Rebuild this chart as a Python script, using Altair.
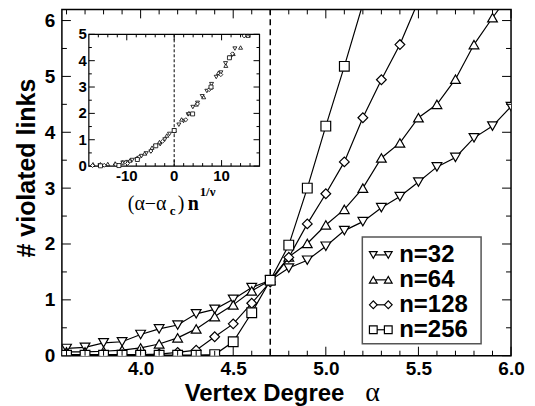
import altair as alt
import pandas as pd

# ---------------- data ----------------
ALPHA = [3.6, 3.7, 3.8, 3.9, 4.0, 4.1, 4.2, 4.3, 4.4, 4.5, 4.6, 4.7, 4.8,
         4.9, 5.0, 5.1, 5.2, 5.3, 5.4, 5.5, 5.6, 5.7, 5.8, 5.9, 6.0]
V32 = [0.13, 0.15, 0.23, 0.25, 0.38, 0.48, 0.55, 0.75, 0.83, 1.01, 1.22, 1.35, 1.57,
       1.71, 1.96, 2.24, 2.40, 2.65, 2.85, 3.11, 3.38, 3.55, 3.90, 4.11, 4.46]
V64 = [0.07, 0.07, 0.08, 0.10, 0.14, 0.21, 0.32, 0.48, 0.70, 0.91, 1.16, 1.35, 1.77,
       2.01, 2.34, 2.62, 3.00, 3.54, 3.81, 4.26, 4.50, 4.95, 5.57, 6.05, 6.50]
V128 = [0.02, 0.02, 0.02, 0.02, 0.02, 0.03, 0.06, 0.10, 0.34, 0.57, 0.94, 1.32, 1.76,
        2.36, 2.90, 3.47, 4.26, 4.94, 5.57, 6.35]
V256 = [0.01, 0.01, 0.01, 0.01, 0.01, 0.01, 0.01, 0.01, 0.02, 0.25, 0.77, 1.35, 1.98,
        3.00, 4.11, 5.18, 6.30]
SERIES = ["n=32", "n=64", "n=128", "n=256"]
SIZES = [32, 64, 128, 256]
VALUES = [V32, V64, V128, V256]
SHAPES = ["triangle-down", "triangle-up", "diamond", "square"]

# scaling collapse parameters
ALPHA_C = 4.7
INV_NU = 0.66

# tick values
X_MAJOR = [4.0, 4.5, 5.0, 5.5, 6.0]
X_MINOR = [3.6, 3.7, 3.8, 3.9, 4.1, 4.2, 4.3, 4.4, 4.6, 4.7, 4.8, 4.9,
           5.1, 5.2, 5.3, 5.4, 5.6, 5.7, 5.8, 5.9]
Y_MAJOR = [0, 1, 2, 3, 4, 5, 6]
Y_MINOR = [0.5, 1.5, 2.5, 3.5, 4.5, 5.5]
IX_MAJOR = [-10, 0, 10]
IX_LABELS = ["-10", "0", "10"]
IX_MINOR = [-16, -14, -12, -8, -6, -4, -2, 2, 4, 6, 8, 12, 14, 16]
IY_MAJOR = [0, 1, 2, 3, 4, 5]
IY_MINOR = [0.5, 1.5, 2.5, 3.5, 4.5]
IX_DOMAIN = [-18, 18]
IY_DOMAIN = [0, 5]

rows = []
for s, n, vals in zip(SERIES, SIZES, VALUES):
    for a, v in zip(ALPHA, vals):
        rows.append({"alpha": a, "value": v, "series": s, "n": n})
df = pd.DataFrame(rows)

W, H = 450, 347
FONT = "Liberation Sans"
SERIF = "Liberation Serif"
X_DOMAIN = [3.575, 6.0]
Y_DOMAIN = [0, 6.2]

XS = alt.Scale(domain=X_DOMAIN, nice=False, zero=False)
YS = alt.Scale(domain=Y_DOMAIN, nice=False, zero=False)
SHAPE_SCALE = alt.Scale(domain=SERIES, range=SHAPES)

# inset placement inside the main plot (pixels from the plot's top-left corner)
IL, IR, IT, IB = 27, 198, 25, 157
# the same box in main-axis units, so that the inset goes through the main scales
AX0 = X_DOMAIN[0] + IL / W * (X_DOMAIN[1] - X_DOMAIN[0])
AX1 = X_DOMAIN[0] + IR / W * (X_DOMAIN[1] - X_DOMAIN[0])
AY0 = Y_DOMAIN[1] * (H - IB) / H
AY1 = Y_DOMAIN[1] * (H - IT) / H


def ix(expr):
    return f"{AX0} + (({expr}) - ({IX_DOMAIN[0]})) / ({IX_DOMAIN[1] - IX_DOMAIN[0]}) * ({AX1 - AX0})"


def iy(expr):
    return f"{AY0} + (({expr}) - ({IY_DOMAIN[0]})) / ({IY_DOMAIN[1] - IY_DOMAIN[0]}) * ({AY1 - AY0})"


# ---------------- main panel ----------------
lines = alt.Chart(df).mark_line(color="black", strokeWidth=1.2, clip=True).encode(
    x=alt.X("alpha:Q", scale=XS,
            axis=alt.Axis(values=X_MAJOR, format=".1f", title=None, labelPadding=4)),
    y=alt.Y("value:Q", scale=YS,
            axis=alt.Axis(values=Y_MAJOR, format="d", title=None, labelPadding=7)),
    detail="series:N",
    order="alpha:Q",
)
points = alt.Chart(df).mark_point(
    filled=True, fill="white", stroke="black", strokeWidth=1.2, size=95, opacity=1, clip=True
).encode(
    x="alpha:Q", y="value:Q",
    shape=alt.Shape("series:N", scale=SHAPE_SCALE, legend=None),
)
vline = alt.Chart(pd.DataFrame({"alpha": [ALPHA_C]})).mark_rule(
    color="black", strokeWidth=1.5, strokeDash=[6, 4]
).encode(x="alpha:Q")


def xticks(vals, length):
    d = pd.DataFrame({"alpha": vals})
    b = alt.Chart(d).mark_rule(color="black", strokeWidth=1).encode(
        x="alpha:Q", y=alt.value(H), y2=alt.value(H - length))
    t = alt.Chart(d).mark_rule(color="black", strokeWidth=1).encode(
        x="alpha:Q", y=alt.value(0), y2=alt.value(length))
    return [b, t]


def yticks(vals, length):
    d = pd.DataFrame({"value": vals})
    l = alt.Chart(d).mark_rule(color="black", strokeWidth=1).encode(
        y="value:Q", x=alt.value(0), x2=alt.value(length))
    r = alt.Chart(d).mark_rule(color="black", strokeWidth=1).encode(
        y="value:Q", x=alt.value(W), x2=alt.value(W - length))
    return [l, r]


tick_layers = xticks(X_MAJOR, 9) + xticks(X_MINOR, 5) + yticks(Y_MAJOR, 9) + yticks(Y_MINOR, 5)

one = pd.DataFrame({"t": [0]})


def txt(s, x, y, size, font=SERIF, weight="normal", angle=0, align="left", baseline="alphabetic"):
    return alt.Chart(one).mark_text(
        font=font, fontWeight=weight, fontSize=size, align=align, baseline=baseline,
        color="black", angle=angle,
    ).encode(x=alt.value(x), y=alt.value(y), text=alt.value(s))


titles = [
    txt("Vertex Degree", 123, 392, 24, font=FONT, weight="bold"),
    txt("α", 304, 392, 28),
    txt("# violated links", -27, 159, 25, font=FONT, weight="bold", angle=270, align="center"),
]

# ---------------- inset (drawn through the main scales) ----------------
frame = alt.Chart(one).mark_rect(fill="white", stroke="black", strokeWidth=1.2).encode(
    x=alt.value(IL), x2=alt.value(IR), y=alt.value(IT), y2=alt.value(IB)
)
ipoints = alt.Chart(df).transform_calculate(
    sx=f"(datum.alpha - {ALPHA_C}) * pow(datum.n, {INV_NU})"
).transform_filter(
    f"datum.sx >= {IX_DOMAIN[0]} && datum.sx <= {IX_DOMAIN[1]} && datum.value <= {IY_DOMAIN[1]}"
).transform_calculate(
    alpha=ix("datum.sx"), value=iy("datum.value")
).mark_point(filled=True, fill="white", stroke="black", strokeWidth=0.8, size=16, opacity=1).encode(
    x="alpha:Q", y="value:Q",
    shape=alt.Shape("series:N", scale=SHAPE_SCALE, legend=None),
)
izero = alt.Chart(pd.DataFrame({"sx": [0]})).transform_calculate(alpha=ix("datum.sx")).mark_rule(
    color="black", strokeWidth=1, strokeDash=[3, 2]
).encode(x="alpha:Q", y=alt.value(IT), y2=alt.value(IB))


def ixticks(vals, length):
    d = pd.DataFrame({"sx": vals})
    b = alt.Chart(d).transform_calculate(alpha=ix("datum.sx")).mark_rule(
        color="black", strokeWidth=1).encode(x="alpha:Q", y=alt.value(IB), y2=alt.value(IB - length))
    t = alt.Chart(d).transform_calculate(alpha=ix("datum.sx")).mark_rule(
        color="black", strokeWidth=1).encode(x="alpha:Q", y=alt.value(IT), y2=alt.value(IT + length))
    return [b, t]


def iyticks(vals, length):
    d = pd.DataFrame({"sy": vals})
    l = alt.Chart(d).transform_calculate(value=iy("datum.sy")).mark_rule(
        color="black", strokeWidth=1).encode(y="value:Q", x=alt.value(IL), x2=alt.value(IL + length))
    r = alt.Chart(d).transform_calculate(value=iy("datum.sy")).mark_rule(
        color="black", strokeWidth=1).encode(y="value:Q", x=alt.value(IR), x2=alt.value(IR - length))
    return [l, r]


itick_layers = ixticks(IX_MAJOR, 6) + ixticks(IX_MINOR, 3) + iyticks(IY_MAJOR, 6) + iyticks(IY_MINOR, 3)

ixlab = alt.Chart(pd.DataFrame({"sx": IX_MAJOR, "lab": IX_LABELS})).transform_calculate(
    alpha=ix("datum.sx")
).mark_text(
    font=FONT, fontWeight="bold", fontSize=15, align="center", baseline="top", color="black"
).encode(x="alpha:Q", y=alt.value(IB + 3), text="lab:N")
iylab = alt.Chart(pd.DataFrame({"sy": IY_MAJOR, "lab": [str(v) for v in IY_MAJOR]})).transform_calculate(
    value=iy("datum.sy")
).mark_text(
    font=FONT, fontWeight="bold", fontSize=15, align="right", baseline="middle", color="black"
).encode(x=alt.value(IL - 2), y="value:Q", text="lab:N")

ititle = [
    txt("(α−α", 66, 201, 20),
    txt("c", 108, 206, 13, weight="bold"),
    txt(")", 116, 201, 20),
    txt("n", 126, 201, 20, weight="bold"),
    txt("1/ν", 138, 187, 13, weight="bold"),
]

# ---------------- legend (marker - line - marker, as in the reference) ----------------
LX0, LX1, LY0, LY1 = 301, 420, 228, 335
ROW_Y = [246, 271, 296, 321]
legend_layers = [
    alt.Chart(one).mark_rect(fill="white", stroke="#555555", strokeWidth=1.5).encode(
        x=alt.value(LX0), x2=alt.value(LX1), y=alt.value(LY0), y2=alt.value(LY1))
]
for s, shp, ry in zip(SERIES, SHAPES, ROW_Y):
    legend_layers.append(
        alt.Chart(one).mark_rule(color="black", strokeWidth=1.2).encode(
            x=alt.value(312), x2=alt.value(327), y=alt.value(ry)))
    for mx in (312, 327):
        legend_layers.append(
            alt.Chart(one).mark_point(
                filled=True, fill="white", stroke="black", strokeWidth=1.2, size=60, opacity=1
            ).encode(x=alt.value(mx), y=alt.value(ry), shape=alt.value(shp)))
    legend_layers.append(txt(s, 338, ry, 24, font=FONT, weight="bold", baseline="middle"))

chart = alt.layer(
    lines, vline, points, *tick_layers, *titles,
    frame, izero, *itick_layers, ipoints, ixlab, iylab, *ititle,
    *legend_layers,
).properties(
    width=W, height=H,
    padding={"left": 54, "top": 1, "right": 16, "bottom": 50},
    autosize=alt.AutoSizeParams(type="none"),
).configure_view(
    stroke="black", strokeWidth=1.5
).configure_axis(
    labelFont=FONT, labelFontWeight="bold", labelFontSize=19, labelColor="black",
    tickSize=0, domain=False, grid=False, labelOverlap=False, labelFlush=False,
)

chart.save("out.html", embed_options={"renderer": "svg", "actions": False})
